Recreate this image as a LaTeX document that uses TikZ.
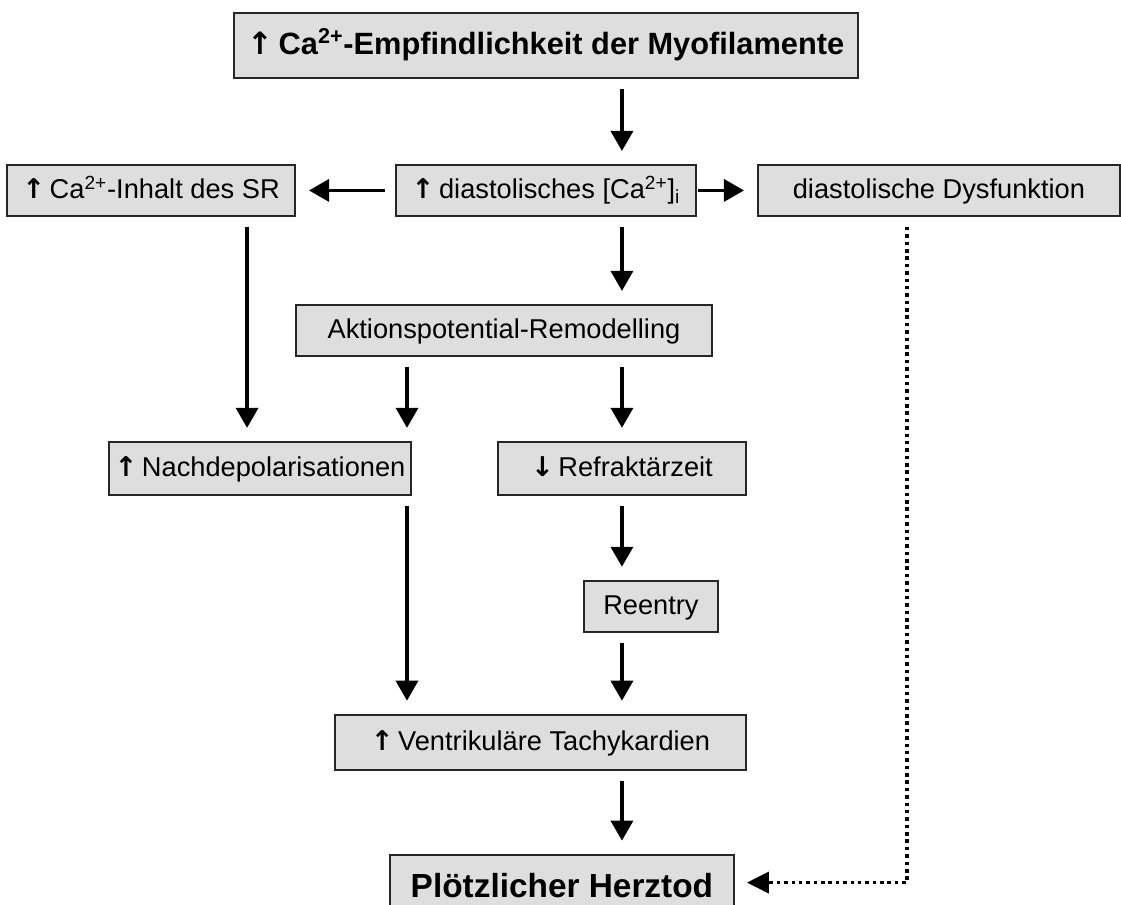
\documentclass[tikz,border=0pt]{standalone}
\usepackage{fontspec}
\setmainfont{Liberation Sans}
\newfontfamily\arrowfont{DejaVu Sans}
\newcommand{\up}{{\arrowfont\bfseries ↑}\,}
\newcommand{\down}{{\arrowfont\bfseries ↓}\,}
\usepackage{tikz}
\usetikzlibrary{arrows.meta, positioning}

\begin{document}
\begin{tikzpicture}[node distance=1cm]
  \tikzstyle{box} = [draw=black!85, line width=1.1pt, fill=black!13, rectangle, inner sep=1pt, minimum height=1.02cm, text height=12pt, text depth=3pt, font=\fontsize{15.5}{19}\selectfont]
  \tikzstyle{arr} = [-{Triangle[length=0.4cm, width=0.44cm]}, line width=2pt, shorten <=0.2cm, shorten >=0.26cm]
  \tikzstyle{dotarr} = [-{Triangle[length=0.44cm, width=0.42cm]}, line width=2pt, dash pattern=on 2pt off 2.2pt, shorten >=0.24cm]
  \useasboundingbox (0,0) rectangle (22.42,-18.1);

  \node[box, minimum width=12.48cm, minimum height=1.3cm, text height=14pt, text depth=4pt, font=\bfseries\fontsize{17.5}{20}\selectfont] (top) at (10.92,-0.91) {\up Ca\textsuperscript{2+}-Empfindlichkeit der Myofilamente};
  \node[box, minimum width=6cm, below=1.7cm of top] (diast) {\up diastolisches [Ca\textsuperscript{2+}]\textsubscript{i}};
  \node[box, minimum width=5.76cm, left=1.98cm of diast] (sr) {\up Ca\textsuperscript{2+}-Inhalt des SR};
  \node[box, minimum width=7.24cm, right=1.2cm of diast] (dysf) {diastolische Dysfunktion};
  \node[box, minimum width=8.32cm, below=1.74cm of diast, xshift=-0.84cm] (ap) {Aktionspotential-Remodelling};
  \node[box, minimum width=6.04cm, minimum height=1.06cm, below=1.68cm of ap, xshift=-4.88cm] (nach) {\up Nachdepolarisationen};
  \node[box, minimum width=4.96cm, minimum height=1.06cm, right=1.7cm of nach] (refr) {\down Refraktärzeit};
  \node[box, minimum width=2.68cm, below=1.68cm of refr, xshift=0.58cm] (reentry) {Reentry};
  \node[box, minimum width=8.22cm, minimum height=1.1cm, below=1.62cm of reentry, xshift=-2.21cm] (tachy) {\up Ventrikuläre Tachykardien};
  \node[box, minimum width=6.88cm, minimum height=1.32cm, below=1.66cm of tachy, xshift=0.43cm, text height=15pt, text depth=4pt, font=\bfseries\fontsize{19}{22}\selectfont] (herz) {Plötzlicher Herztod};

  \coordinate (srout) at ([xshift=1.92cm]sr.south);
  \coordinate (nachout) at ([xshift=2.94cm]nach.south);
  \coordinate (apout) at ([xshift=-1.94cm]ap.south);
  \coordinate (dysfout) at ([xshift=-0.64cm, yshift=-0.2cm]dysf.south);

  \draw[arr] (top.south -| refr) -- (diast.north -| refr);
  \draw[arr] (diast.west) -- (sr.east);
  \draw[arr, shorten <=0.02cm] (diast.east) -- (dysf.west);
  \draw[arr] (diast.south -| refr) -- (ap.north -| refr);
  \draw[arr] (srout) -- (nach.north -| srout);
  \draw[arr] (apout) -- (nach.north -| apout);
  \draw[arr] (ap.south -| refr) -- (refr.north);
  \draw[arr] (refr.south) -- (reentry.north -| refr);
  \draw[arr] (nachout) -- (tachy.north -| nachout);
  \draw[arr] (reentry.south -| refr) -- (tachy.north -| refr);
  \draw[arr] (tachy.south -| refr) -- (herz.north -| refr);
  \draw[dotarr] (dysfout) |- ([yshift=0.1cm]herz.east);
\end{tikzpicture}
\end{document}
